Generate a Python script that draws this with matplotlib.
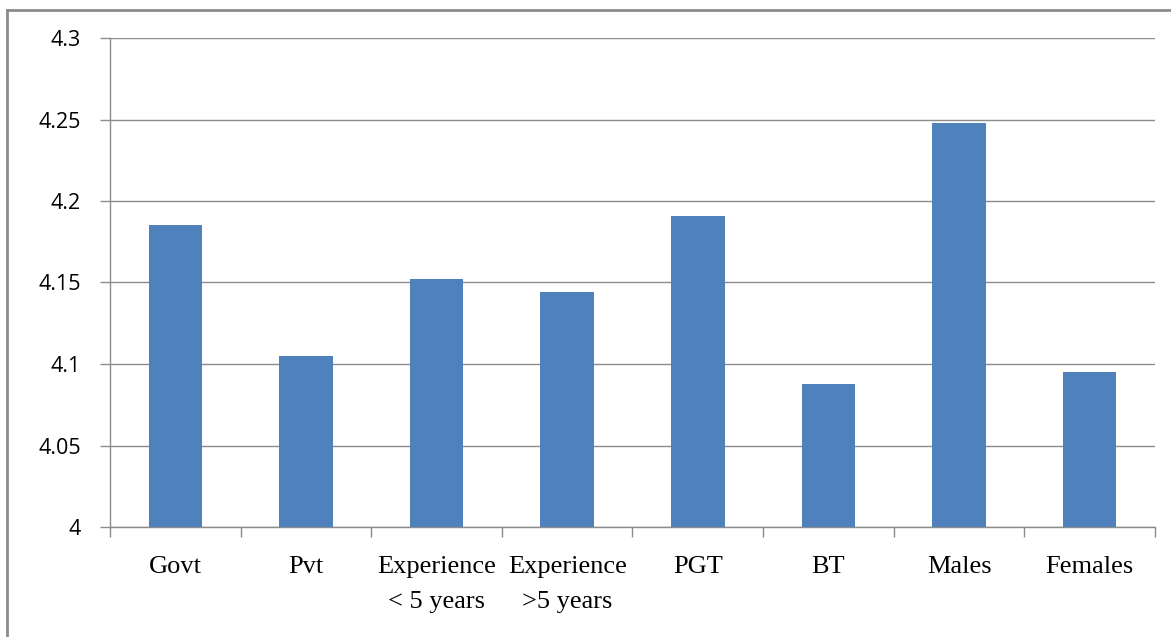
import matplotlib
matplotlib.use("Agg")
import matplotlib.pyplot as plt
from matplotlib.lines import Line2D

categories = ["Govt", "Pvt", "Experience\n< 5 years", "Experience\n>5 years",
              "PGT", "BT", "Males", "Females"]
scores = [4.185, 4.105, 4.152, 4.144, 4.191, 4.088, 4.248, 4.095]
yticks = [4, 4.05, 4.1, 4.15, 4.2, 4.25, 4.3]
ytick_labels = ["4", "4.05", "4.1", "4.15", "4.2", "4.25", "4.3"]

W, H = 1171, 637
fig = plt.figure(figsize=(W / 100, H / 100), dpi=100)

# outer frame (left and top edges visible)
fig.add_artist(Line2D([7 / W, 7 / W], [0, 1 - 10 / H], color="#8c8c8c", lw=2))
fig.add_artist(Line2D([7 / W, 1], [1 - 10 / H, 1 - 10 / H], color="#8c8c8c", lw=2))

ax = fig.add_axes([110 / W, 1 - 527 / H, (1155 - 110) / W, (527 - 38) / H])
x = list(range(len(categories)))
ax.bar(x, scores, width=0.41, color="#4F81BD", zorder=3)

ax.set_ylim(4, 4.3)
ax.set_xlim(-0.5, len(categories) - 0.5)
ax.set_yticks(yticks)
ax.set_yticklabels(ytick_labels, fontfamily="Open Sans", fontsize=15.5)
ax.yaxis.grid(True, color="#8c8c8c", lw=1, zorder=0)

ax.set_xticks(x)
labels = ax.set_xticklabels(categories, fontfamily="Liberation Serif", fontsize=19)
for t in labels:
    t.set_linespacing(1.75)
ax.tick_params(axis="x", length=0, pad=21)
ax.set_xticks([i - 0.5 for i in range(len(categories) + 1)], minor=True)
ax.tick_params(axis="x", which="minor", length=7, color="#8c8c8c", width=1)
ax.tick_params(axis="y", length=7, color="#8c8c8c", width=1, pad=14)

for s in ["top", "right"]:
    ax.spines[s].set_visible(False)
for s in ["left", "bottom"]:
    ax.spines[s].set_color("#8c8c8c")
    ax.spines[s].set_linewidth(1)

fig.savefig("out.png", dpi=100)
